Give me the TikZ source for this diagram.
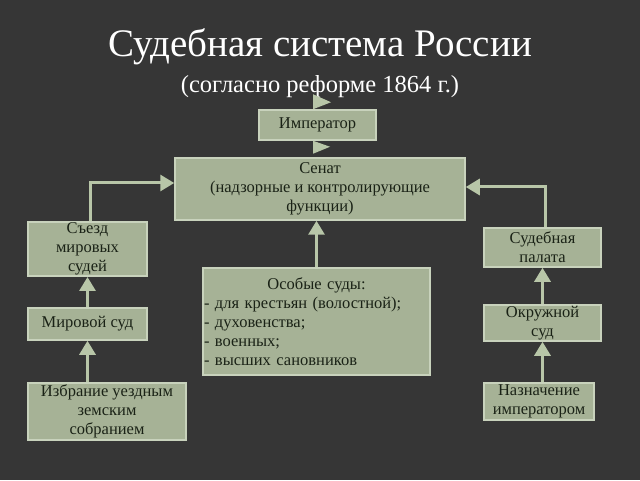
\documentclass[tikz,border=0pt]{standalone}
\usepackage{fontspec}
\setmainfont{Liberation Serif}
\usetikzlibrary{arrows.meta,calc}
\definecolor{bgdark}{RGB}{54,54,54}
\definecolor{boxfill}{RGB}{166,178,150}
\definecolor{boxline}{RGB}{200,210,188}
\definecolor{boxtext}{RGB}{26,34,22}
\definecolor{arrcol}{RGB}{184,198,168}
\tikzset{
  box/.style={draw=boxline,fill=boxfill,line width=1.5pt,align=center,font=\fontsize{16.5}{19}\selectfont,text=boxtext,inner sep=1pt},
  arr/.style={-{Triangle[length=14pt,width=16pt]},draw=arrcol,line width=3pt},
  flag/.style={fill=arrcol}
}
\begin{document}
\begin{tikzpicture}[x=1pt,y=1pt]
\fill[bgdark] (0,0) rectangle (640,480);
\useasboundingbox (0,0) rectangle (640,480);
% title
\node[text=white,font=\fontsize{39}{42}\selectfont] (title) at (320,433) {Судебная система России};
\node[text=white,font=\fontsize{24.5}{28}\selectfont] (subtitle) at (320,393) {(согласно реформе 1864 г.)};
% boxes
\node[box,minimum width=117pt,minimum height=30pt] (imp) at (317.5,355) {Император};
\node[box,minimum width=290pt,minimum height=62pt] (senat) at (320,291) {Сенат\\(надзорные и контролирующие\\функции)};
\node[box,minimum width=119pt,minimum height=52pt] (sjezd) at (87.5,231) {Съезд\\мировых\\судей};
\node[box,minimum width=119pt,minimum height=32pt] (mir) at (87.5,156) {Мировой суд};
\node[box,minimum width=158pt,minimum height=57pt] (izbr) at (107,68.5) {Избрание уездным\\земским\\собранием};
\node[box,text width=225pt,align=left,minimum height=107pt] (osob) at (316.5,158.5)
  {\makebox[225pt]{Особые суды:}\\- для крестьян (волостной);\\- духовенства;\\- военных;\\- высших сановников};
\node[box,minimum width=117pt,minimum height=39pt] (palata) at (542.5,232.5) {Судебная\\палата};
\node[box,minimum width=117pt,minimum height=36pt] (okr) at (542.5,157) {Окружной\\суд};
\node[box,minimum width=110pt,minimum height=37pt] (nazn) at (539,78.5) {Назначение\\императором};
% connectors
\draw[arr] ([xshift=2.5pt]sjezd.north) |- ([yshift=6pt]senat.west);
\draw[arr] ([xshift=2.5pt]palata.north) |- ([yshift=2pt]senat.east);
\draw[arr] (osob.north) -- (osob.north |- senat.south);
\draw[arr] (mir.north) -- (sjezd.south);
\draw[arr] (izbr.north -| mir.north) -- (mir.south);
\draw[arr] (okr.north) -- (palata.south);
\draw[arr] (nazn.north -| okr.north) -- (okr.south);
% flags by the emperor box
\fill[flag] ([xshift=-4.5pt]imp.north) -- ++(0,15) -- ++(18,-8) -- cycle;
\fill[flag] ([xshift=-4.5pt]imp.south) -- ++(0,-13) -- ++(17,7) -- cycle;
\end{tikzpicture}
\end{document}
